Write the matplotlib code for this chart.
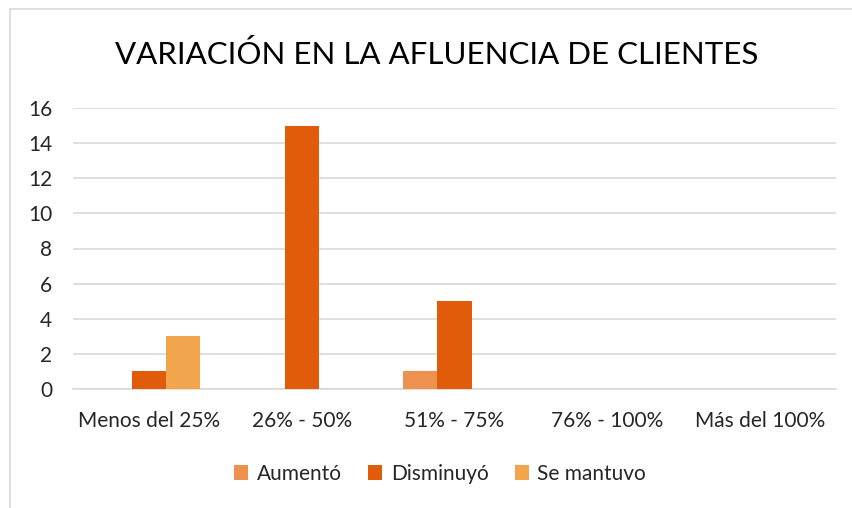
import matplotlib
matplotlib.use("Agg")
import matplotlib.pyplot as plt
import numpy as np
from matplotlib.patches import Rectangle

categories = ["Menos del 25%", "26% - 50%", "51% - 75%", "76% - 100%", "Más del 100%"]
series_names = ["Aumentó", "Disminuyó", "Se mantuvo"]
aumento = [0, 0, 1, 0, 0]
disminuyo = [1, 15, 5, 0, 0]
se_mantuvo = [3, 0, 0, 0, 0]
yticks = [0, 2, 4, 6, 8, 10, 12, 14, 16]
colors = ["#EE914F", "#E05C0B", "#F2A54D"]

plt.rcParams['font.family'] = ['Lato', 'DejaVu Sans']

fig = plt.figure(figsize=(8.53, 5.08), dpi=100)
fig.patches.append(Rectangle((10/853, -0.1), 1.2, 1 - 9/508 + 0.1, transform=fig.transFigure,
                             fill=False, edgecolor="#D9D9D9", linewidth=1.2))
ax = fig.add_axes([73/853, 1 - 389/508, (836 - 73)/853, (389 - 108)/508])

x = np.arange(len(categories))
w = 0.223
for i, (vals, name) in enumerate(zip([aumento, disminuyo, se_mantuvo], series_names)):
    ax.bar(x + (i - 1) * w, vals, width=w, color=colors[i], label=name, zorder=3)

ax.set_xlim(-0.5, len(categories) - 0.5)
ax.set_ylim(0, 16)
ax.set_yticks(yticks)
ax.set_xticks(x)
ax.set_xticklabels(categories)
ax.tick_params(axis='both', length=0, labelsize=15, colors="#262626")
ax.tick_params(axis='y', pad=15)
ax.tick_params(axis='x', pad=16)
ax.yaxis.grid(True, color="#D9D9D9", linewidth=1.2, zorder=0)
for s in ax.spines.values():
    s.set_visible(False)
ax.spines['bottom'].set_visible(True)
ax.spines['bottom'].set_color("#D9D9D9")
ax.spines['bottom'].set_linewidth(1.2)

fig.text(437/853, 1 - 54/508, "VARIACIÓN EN LA AFLUENCIA DE CLIENTES", ha='center', va='center',
         fontsize=22.5, color="#000000")

leg = fig.legend(loc='center', bbox_to_anchor=(440/853, 1 - 474/508), ncol=3, frameon=False,
                 fontsize=15, handlelength=0.7, handleheight=0.7, handletextpad=0.4,
                 columnspacing=1.25)
for t in leg.get_texts():
    t.set_color("#262626")

fig.savefig("out.png", dpi=100)
